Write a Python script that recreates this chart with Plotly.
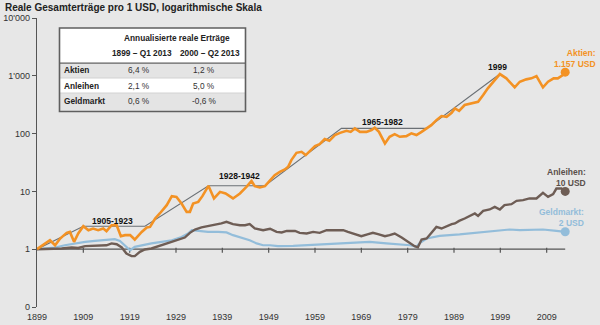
import plotly.graph_objects as go
import math

# ---- data -------------------------------------------------------------
stock_years = [1899.0, 1901.4, 1901.8, 1902.9, 1904.0, 1905.4, 1906.1, 1907.0, 1907.9, 1909.0,
               1910.1, 1911.1, 1912.2, 1913.3, 1914.0, 1915.1, 1916.2, 1917.1, 1918.0, 1919.1,
               1920.1, 1921.6, 1922.7, 1923.4, 1924.5, 1925.5, 1927.0, 1928.1, 1929.1, 1930.2,
               1931.3, 1932.0, 1932.7, 1933.8, 1934.7, 1936.0, 1937.2, 1938.5, 1939.7, 1941.3,
               1942.8, 1944.2, 1945.3, 1946.0, 1947.1, 1948.2, 1949.3, 1950.3, 1951.4, 1952.5,
               1953.2, 1953.9, 1955.0, 1956.1, 1957.0, 1957.9, 1959.0, 1960.0, 1961.1, 1962.1,
               1963.3, 1964.4, 1965.8, 1966.7, 1967.6, 1968.7, 1970.1, 1971.2, 1971.9, 1972.8,
               1974.1, 1975.1, 1976.2, 1977.3, 1978.7, 1979.8, 1980.9, 1982.0, 1983.1, 1984.1,
               1985.2, 1986.3, 1987.4, 1988.5, 1989.2, 1990.1, 1991.3, 1992.8, 1994.2, 1995.3,
               1996.3, 1997.8, 1998.9, 2000.3, 2002.1, 2003.2, 2004.6, 2005.7, 2006.8, 2008.2,
               2009.3, 2010.5, 2011.4, 2012.5, 2013.0]
stock_values = [1.0, 1.39, 1.43, 1.17, 1.53, 1.92, 1.99, 1.34, 1.87, 2.5,
                2.13, 2.28, 2.13, 2.28, 2.05, 2.6, 2.6, 1.68, 1.75, 1.75,
                1.47, 1.99, 2.38, 2.43, 3.4, 4.15, 5.78, 8.28, 8.05, 6.18,
                4.43, 4.43, 6.18, 6.59, 8.28, 12.5, 7.55, 9.82, 9.22, 7.55,
                9.22, 12.0, 15.2, 12.3, 11.7, 12.3, 15.7, 19.1, 21.8, 24.0,
                26.6, 34.8, 46.5, 48.4, 42.4, 50.4, 60.8, 65.8, 80.3, 75.0,
                94.2, 103, 112, 107, 123, 107, 107, 115, 126, 107,
                67.6, 88.1, 98.0, 88.1, 90.5, 101, 94.2, 107, 123, 140,
                171, 201, 195, 229, 273, 248, 312, 334, 356, 464,
                607, 844, 1072, 903, 631, 789, 868, 903, 990, 631,
                789, 903, 903, 1030, 1157]

bond_years = [1899.0, 1901.4, 1904.3, 1906.5, 1907.9, 1909.4, 1911.5, 1913.0, 1914.0, 1915.1,
              1916.2, 1917.3, 1918.3, 1919.4, 1920.1, 1921.2, 1922.3, 1923.7, 1925.2, 1926.6,
              1928.1, 1929.5, 1930.9, 1932.0, 1933.1, 1934.5, 1935.9, 1937.4, 1938.8, 1939.9,
              1941.3, 1942.8, 1943.9, 1944.9, 1946.0, 1947.8, 1949.3, 1950.7, 1951.8, 1952.9,
              1954.7, 1955.7, 1957.2, 1958.6, 1960.0, 1961.5, 1962.9, 1964.0, 1965.1, 1966.1,
              1967.6, 1969.0, 1970.5, 1971.5, 1972.6, 1974.1, 1975.1, 1976.2, 1977.7, 1979.1,
              1980.5, 1981.2, 1982.0, 1983.1, 1984.1, 1985.2, 1986.3, 1987.4, 1988.5, 1989.2,
              1990.1, 1991.3, 1992.4, 1993.5, 1994.2, 1995.3, 1996.7, 1997.8, 1998.9, 1999.9,
              2001.4, 2002.5, 2003.9, 2005.3, 2006.8, 2008.2, 2009.3, 2010.4, 2011.1, 2012.2,
              2013.0]
bond_values = [1.0, 1.0, 1.03, 1.07, 1.05, 1.13, 1.14, 1.17, 1.17, 1.26,
               1.22, 1.07, 0.84, 0.76, 0.76, 0.90, 0.99, 1.03, 1.13, 1.22,
               1.34, 1.47, 1.59, 1.92, 2.19, 2.38, 2.50, 2.68, 2.79, 2.97,
               2.71, 2.60, 2.60, 2.71, 2.28, 2.13, 2.26, 1.99, 1.95, 2.07,
               2.07, 1.92, 1.87, 1.99, 1.92, 2.13, 2.13, 2.19, 2.13, 1.99,
               1.82, 1.68, 1.82, 1.92, 1.82, 1.68, 1.75, 1.87, 1.59, 1.34,
               1.13, 1.08, 1.47, 1.53, 1.92, 2.43, 2.28, 2.50, 2.71, 2.79,
               3.09, 3.40, 3.72, 4.15, 3.77, 4.60, 4.87, 5.40, 4.87, 5.78,
               6.02, 6.86, 7.05, 7.55, 7.55, 9.44, 8.05, 8.96, 11.2, 11.2,
               10.0]

cash_years = [1899.0, 1902.9, 1905.0, 1907.2, 1909.4, 1911.5, 1913.7, 1915.8, 1916.9, 1918.0,
              1919.1, 1920.1, 1921.6, 1923.7, 1925.9, 1928.1, 1930.2, 1931.6, 1932.4, 1933.8,
              1935.9, 1938.1, 1939.9, 1941.3, 1942.8, 1944.9, 1946.4, 1947.8, 1949.3, 1951.0,
              1954.3, 1960.0, 1964.4, 1968.0, 1970.8, 1974.4, 1977.3, 1979.5, 1980.9, 1981.6,
              1983.1, 1985.9, 1990.2, 1995.3, 1998.9, 2001.0, 2003.2, 2006.1, 2008.2, 2011.1,
              2013.0]
cash_values = [1.0, 1.07, 1.17, 1.26, 1.34, 1.39, 1.43, 1.49, 1.39, 1.17,
               0.96, 1.10, 1.17, 1.26, 1.34, 1.43, 1.63, 1.87, 2.13, 2.07,
               1.99, 1.99, 1.95, 1.75, 1.63, 1.43, 1.26, 1.17, 1.17, 1.13,
               1.14, 1.21, 1.29, 1.34, 1.34, 1.26, 1.22, 1.17, 1.10, 1.27,
               1.53, 1.70, 1.80, 1.99, 2.13, 2.19, 2.13, 2.13, 2.19, 2.07,
               2.0]

# upper envelope of the stock curve (peaks and flat recovery phases)
env_years = [1899.0, 1909.0, 1922.3, 1936.0, 1948.2, 1964.7, 1983.1, 1998.9]
env_values = [1.0, 2.5, 2.5, 12.5, 12.5, 123, 123, 1072]

period_labels = ["1905-1923", "1928-1942", "1965-1982", "1999"]
period_x = [1915.2, 1942.7, 1973.5, 1998.3]
period_y = [3.09, 18.6, 158, 1435]

x_ticks = [1899, 1909, 1919, 1929, 1939, 1949, 1959, 1969, 1979, 1989, 1999, 2009]
y_ticks = [0.1, 1, 10, 100, 1000, 10000]
y_tick_text = ["0", "1", "10", "100", "1'000", "10'000"]

table_rows = ["Aktien", "Anleihen", "Geldmarkt"]
table_col1 = ["6,4 %", "2,1 %", "0,6 %"]
table_col2 = ["1,2 %", "5,0 %", "-0,6 %"]
table_heads = ["1899 – Q1 2013", "2000 – Q2 2013"]

# ---- styling ----------------------------------------------------------
ORANGE = "#f39224"
BROWN = "#6e5d55"
BLUE = "#93bdda"
GREY_LINE = "#6b7075"
AXIS = "#555555"
BG = "#e7e7e7"
FONT = "Liberation Sans, Arial, sans-serif"

W, H = 600, 325
L, R, T, B = 37, 7, 18, 18
PW, PH = W - L - R, H - T - B


def px(x):
    return (x - L) / PW


def py(y):
    return (H - B - y) / PH


fig = go.Figure()

# baseline at 1 with decade ticks
fig.add_trace(go.Scatter(x=[1899, 2013], y=[1, 1], mode="lines",
                         line=dict(color=AXIS, width=1.3), hoverinfo="skip"))
tx, ty = [], []
for yr in x_ticks[1:]:
    tx += [yr, yr, None]
    ty += [1.06, 0.87, None]
fig.add_trace(go.Scatter(x=tx, y=ty, mode="lines",
                         line=dict(color=AXIS, width=1.2), hoverinfo="skip"))

fig.add_trace(go.Scatter(x=env_years, y=env_values, mode="lines",
                         line=dict(color=GREY_LINE, width=1.1)))
fig.add_trace(go.Scatter(x=cash_years, y=cash_values, mode="lines",
                         line=dict(color=BLUE, width=2.2)))
fig.add_trace(go.Scatter(x=bond_years, y=bond_values, mode="lines",
                         line=dict(color=BROWN, width=2.4)))
fig.add_trace(go.Scatter(x=stock_years, y=stock_values, mode="lines",
                         line=dict(color=ORANGE, width=2.6)))

# end markers
fig.add_trace(go.Scatter(x=[stock_years[-1]], y=[stock_values[-1]], mode="markers",
                         marker=dict(color=ORANGE, size=9)))
fig.add_trace(go.Scatter(x=[bond_years[-1]], y=[bond_values[-1]], mode="markers",
                         marker=dict(color=BROWN, size=9)))
fig.add_trace(go.Scatter(x=[cash_years[-1]], y=[cash_values[-1]], mode="markers",
                         marker=dict(color=BLUE, size=9)))

ann = []
# title
ann.append(dict(xref="paper", yref="paper", x=px(3), y=py(8), xanchor="left", yanchor="middle",
                text="<b>Reale Gesamterträge pro 1 USD, logarithmische Skala</b>", showarrow=False,
                font=dict(size=10, color="#222222", family=FONT)))

# period labels
for lab, xv, yv in zip(period_labels, period_x, period_y):
    ann.append(dict(xref="x", yref="y", x=xv, y=math.log10(yv), text="<b>" + lab + "</b>",
                    showarrow=False, xanchor="center", yanchor="middle",
                    font=dict(size=8.5, color="#111111", family=FONT)))

# end labels
end_labels = [("Aktien:<br>%s USD" % "1.157", ORANGE, 598, 58.0),
              ("Anleihen:<br>%d USD" % round(bond_values[-1]), "#5a504b", 588, 177.0),
              ("Geldmarkt:<br>%d USD" % round(cash_values[-1]), BLUE, 586, 218.0)]
for txt, col, xr, yc in end_labels:
    ann.append(dict(xref="paper", yref="paper", x=px(xr), y=py(yc), xanchor="right",
                    yanchor="middle", align="right", text="<b>" + txt + "</b>", showarrow=False,
                    font=dict(size=8.5, color=col, family=FONT)))

# table
shapes = []
tl, tr, tt, tb = 59.5, 245.5, 28.0, 111.5
shapes.append(dict(type="rect", xref="paper", yref="paper", x0=px(tl), x1=px(tr),
                   y0=py(tb), y1=py(tt), fillcolor="white", line=dict(width=0)))
for y0, y1 in [(63.5, 78.0), (93.0, 111.5)]:
    shapes.append(dict(type="rect", xref="paper", yref="paper", x0=px(tl), x1=px(tr),
                       y0=py(y1), y1=py(y0), fillcolor="#e4e4e4", line=dict(width=0)))
for yy in [78.0, 93.0]:
    shapes.append(dict(type="line", xref="paper", yref="paper", x0=px(tl), x1=px(tr),
                       y0=py(yy), y1=py(yy), line=dict(color="#d2d2d2", width=1)))
shapes.append(dict(type="line", xref="paper", yref="paper", x0=px(tl), x1=px(tr),
                   y0=py(63.2), y1=py(63.2), line=dict(color="#5f5f5f", width=1.3)))
shapes.append(dict(type="rect", xref="paper", yref="paper", x0=px(tl), x1=px(tr),
                   y0=py(tb), y1=py(tt), line=dict(color="#5f5f5f", width=1.6)))

tfont = dict(size=8.3, color="#222222", family=FONT)
ann.append(dict(xref="paper", yref="paper", x=px(176.5), y=py(37.5), text="<b>Annualisierte reale Erträge</b>",
                showarrow=False, xanchor="center", yanchor="middle", font=tfont))
for hx, head in zip([142.3, 210.2], table_heads):
    ann.append(dict(xref="paper", yref="paper", x=px(hx), y=py(53.3), text="<b>" + head + "</b>",
                    showarrow=False, xanchor="center", yanchor="middle", font=tfont))
for ry, name, v1, v2 in zip([70.3, 85.7, 101.0], table_rows, table_col1, table_col2):
    ann.append(dict(xref="paper", yref="paper", x=px(62), y=py(ry), text="<b>" + name + "</b>",
                    showarrow=False, xanchor="left", yanchor="middle", font=tfont))
    ann.append(dict(xref="paper", yref="paper", x=px(138.5), y=py(ry), text=v1,
                    showarrow=False, xanchor="center", yanchor="middle",
                    font=dict(size=8.3, color="#333333", family=FONT)))
    ann.append(dict(xref="paper", yref="paper", x=px(204), y=py(ry), text=v2,
                    showarrow=False, xanchor="center", yanchor="middle",
                    font=dict(size=8.3, color="#333333", family=FONT)))

fig.update_layout(
    width=W, height=H,
    margin=dict(l=L, r=R, t=T, b=B, autoexpand=False),
    paper_bgcolor=BG, plot_bgcolor=BG,
    showlegend=False,
    font=dict(family=FONT, size=9, color="#333333"),
    annotations=ann, shapes=shapes,
    xaxis=dict(range=[1899, 2019], tickvals=x_ticks, ticks="", showline=False,
               ticklabelstandoff=3, automargin=False,
               showgrid=False, zeroline=False, tickfont=dict(size=9, color="#333333")),
    yaxis=dict(type="log", range=[-1, 4], tickvals=y_ticks, ticktext=y_tick_text,
               ticks="outside", ticklen=4, tickcolor=AXIS, showline=True, linecolor=AXIS,
               linewidth=1.3, showgrid=False, zeroline=False, automargin=False,
               tickfont=dict(size=9, color="#333333")),
)

fig.write_html("out.html")
